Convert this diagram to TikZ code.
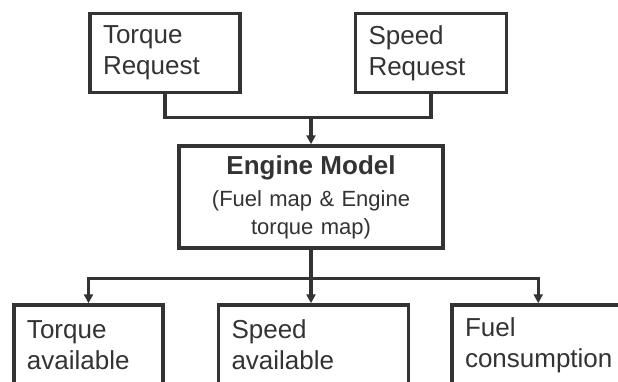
\documentclass[tikz,border=0pt]{standalone}
\usepackage{fontspec}
\setmainfont{Liberation Sans}
\usetikzlibrary{arrows.meta,positioning,calc}
\definecolor{EngInk}{HTML}{333333}

\begin{document}
\begin{tikzpicture}[
  x=1pt, y=-1pt,
  every node/.style={font=\fontsize{26}{31}\selectfont, text=EngInk},
  block/.style={draw=EngInk, line width=3.5pt, inner xsep=13pt, inner ysep=0pt, text width=#1, align=left},
  hub/.style={draw=EngInk, line width=3.5pt, inner xsep=12pt, inner ysep=0pt, text width=#1, align=center,
    minimum height=102pt, font=\fontsize{22}{28}\selectfont},
  link/.style={line width=3.2pt, draw=EngInk},
  arrow/.style={-{Triangle[length=9pt,width=9pt]}, line width=3.2pt, draw=EngInk}
]
\useasboundingbox (0,0) rectangle (618,381);
\clip (0,0) rectangle (618,381);

% inputs
\node[block=124pt, minimum height=79pt] (treq) at (165,53) {Torque\\Request};
\node[block=125pt, minimum height=79pt, right=112pt of treq] (sreq) {Speed\\Request};

\node[hub=240pt] (engine) at (311,197) {{\fontsize{26}{28}\selectfont\bfseries Engine Model}\\[4pt](Fuel map \& Engine\\torque map)};

% outputs
\node[block=123pt, minimum height=80pt] (tavail) at (88.5,345) {Torque\\available};
\node[block=164pt, minimum height=80pt, right=52pt of tavail] (savail) {Speed\\available};
\node[block=150pt, minimum height=80pt, right=40pt of savail] (fuel) {Fuel\\consumption};

\coordinate (join) at ($(engine.north)+(0,-27)$);
\coordinate (split) at ($(engine.south)+(0,29)$);

\draw[link] (treq.south) |- (join) -| (sreq.south);
\draw[arrow] (join) -- (engine.north);
\draw[link] (engine.south) -- (split);
\draw[arrow] (split) -| (tavail.north);
\draw[arrow] (split) -- (split |- savail.north);
\draw[arrow] (split) -| ($(fuel.north west)+(88,0)$);
\end{tikzpicture}
\end{document}
